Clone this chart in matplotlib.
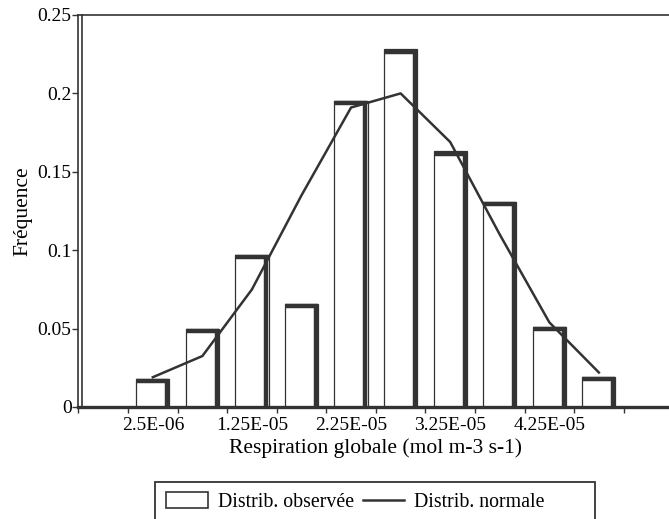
import matplotlib
matplotlib.use("Agg")
import matplotlib.pyplot as plt
import matplotlib.transforms as mtransforms
from matplotlib.lines import Line2D
from matplotlib.patches import Patch, Rectangle

# class centres (mol m-3 s-1)
classes = [2.5e-06, 7.5e-06, 1.25e-05, 1.75e-05, 2.25e-05,
           2.75e-05, 3.25e-05, 3.75e-05, 4.25e-05, 4.75e-05]
observed = [0.018, 0.050, 0.097, 0.066, 0.195, 0.228, 0.163, 0.131, 0.051, 0.019]
normal = [0.019, 0.0325, 0.075, 0.135, 0.191, 0.200, 0.169, 0.110, 0.054, 0.022]

tick_labels = ["2.5E-06", "1.25E-05", "2.25E-05", "3.25E-05", "4.25E-05"]
label_pos = [2.5e-06, 1.25e-05, 2.25e-05, 3.25e-05, 4.25e-05]
bounds = [-5e-06 + i * 5e-06 for i in range(12)]

ink = "#333333"
plt.rcParams["font.family"] = ["Liberation Serif", "DejaVu Serif"]
plt.rcParams["font.size"] = 14

def main():
    fig = plt.figure(figsize=(6.69, 5.19), dpi=100)
    ax = fig.add_axes([0.1173, 0.2158, 0.889, 0.7553])

    step = 5e-06
    w = 0.67 * step
    ax.bar(classes, observed, width=w, color="white", edgecolor=ink, linewidth=0.9, zorder=2)
    # shadowed top and right edges, drawn just inside the bar
    for x, h in zip(classes, observed):
        xr = x + w / 2 - 0.045 * step
        ax.plot([x - w / 2, xr, xr], [h - 0.0014, h - 0.0014, 0], color=ink, lw=3.2,
                solid_joinstyle="miter", solid_capstyle="butt", zorder=3)

    ax.plot(classes, normal, color=ink, lw=1.8, zorder=4)

    ax.set_xlim(-5e-06, 5.5e-05)
    ax.set_ylim(0, 0.25)

    ax.set_yticks([0, 0.05, 0.1, 0.15, 0.2, 0.25])
    ax.set_yticklabels(["0", "0.05", "0.1", "0.15", "0.2", "0.25"])
    ax.set_xticks(bounds)
    ax.set_xticklabels([""] * len(bounds))
    ax.set_xticks(label_pos, minor=True)
    ax.set_xticklabels(tick_labels, minor=True)
    ax.tick_params(axis="y", direction="out", length=4.5, width=1, color=ink, pad=0.5)
    ax.tick_params(axis="x", which="major", direction="out", length=4.5, width=1, color=ink)
    ax.tick_params(axis="x", which="minor", length=0, pad=7)

    ax.spines["right"].set_visible(False)
    ax.spines["top"].set_linewidth(1.2)
    ax.spines["top"].set_color(ink)
    ax.spines["left"].set_linewidth(1.2)
    ax.spines["left"].set_color(ink)
    ax.spines["bottom"].set_linewidth(2.4)
    ax.spines["bottom"].set_color(ink)
    # plot area border just inside the axis
    off = mtransforms.offset_copy(ax.transAxes, fig=fig, x=4, y=0, units="dots")
    ax.add_line(Line2D([0, 0], [0, 1], transform=off, color=ink, lw=1.2, clip_on=False))

    ax.set_xlabel("Respiration globale (mol m-3 s-1)", fontsize=15.5, labelpad=3)
    ax.set_ylabel("Fréquence", fontsize=15.5, labelpad=4)

    handles = [Patch(facecolor="white", edgecolor=ink, linewidth=1.2),
               Line2D([], [], color=ink, lw=1.8)]
    leg = fig.legend(handles, ["Distrib. observée", "Distrib. normale"],
                     loc="upper left", bbox_to_anchor=(166 / 669, 1 - 492 / 519),
                     ncol=2, frameon=False, borderpad=0,
                     handlelength=2.1, handleheight=0.9, handletextpad=0.5,
                     columnspacing=0.45, borderaxespad=0, fontsize=14.3)
    # legend box, running off the bottom of the figure as in the original
    fig.patches.append(Rectangle((155 / 669, -0.05), 440 / 669, 0.05 + 1 - 482 / 519,
                                 transform=fig.transFigure, fill=False,
                                 edgecolor=ink, linewidth=1.3))

    fig.savefig("out.png", dpi=100)

if __name__ == "__main__":
    main()
